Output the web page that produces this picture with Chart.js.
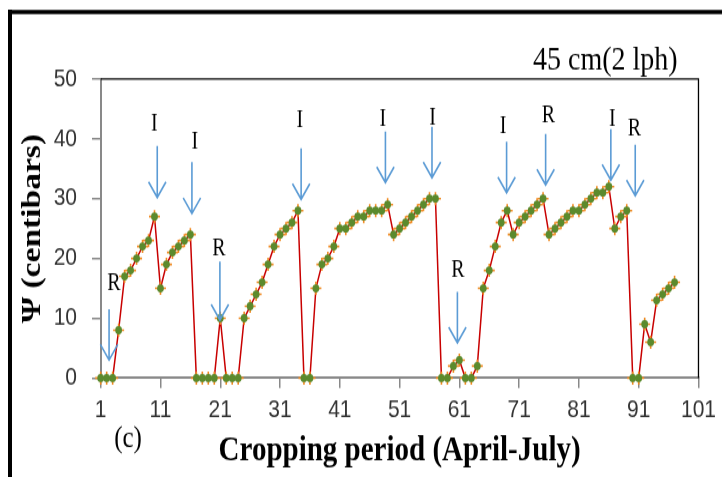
<!DOCTYPE html>
<html>
<head>
<meta charset="utf-8">
<script src="https://cdn.jsdelivr.net/npm/chart.js@4"></script>
<style>
  html { overflow: hidden; }
  body { margin: 0; padding: 0; background: #fff; width: 722px; height: 477px; }
  /* the figure is drawn a little short and stretched to full height */
  #wrap { width: 722px; height: 398px; transform: scaleY(1.1985); transform-origin: 0 0; }
</style>
</head>
<body>
<div id="wrap"><canvas id="c" width="722" height="398"></canvas></div>
<script>
// Day of the cropping period (April-July)
const days = [1,2,3,4,5,6,7,8,9,10,11,12,13,14,15,16,17,18,19,20,
  21,22,23,24,25,26,27,28,29,30,31,32,33,34,35,36,37,38,39,40,
  41,42,43,44,45,46,47,48,49,50,51,52,53,54,55,56,57,58,59,60,
  61,62,63,64,65,66,67,68,69,70,71,72,73,74,75,76,77,78,79,80,
  81,82,83,84,85,86,87,88,89,90,91,92,93,94,95,96,97];

// Soil water tension, centibars
const psi = [0,0,0,8,17,18,20,22,23,27,15,19,21,22,23,24,0,0,0,0,
  10,0,0,0,10,12,14,16,19,22,24,25,26,28,0,0,15,19,20,22,
  25,25,26,27,27,28,28,28,29,24,25,26,27,28,29,30,30,0,0,2,
  3,0,0,2,15,18,22,26,28,24,26,27,28,29,30,24,25,26,27,28,
  28,29,30,31,31,32,25,27,28,0,0,9,6,13,14,15,16];

const xTicks = [1,11,21,31,41,51,61,71,81,91,101];
const yTicks = [0,10,20,30,40,50];

// Irrigation (I) and rain (R) events: arrow shaft position and label placement
const eventText = ['R','I','I','R','I','I','I','R','I','R','I','R'];
const arrowX    = [2.4,10.46,16.26,20.94,34.53,48.63,56.42,60.67,68.9,75.43,86.34,90.42];
const arrowTop  = [11.5,38.8,36.1,19.45,38.4,41.2,42.0,14.4,39.5,40.8,41.6,39.0];
const arrowTip  = [3.0,30.2,27.5,9.7,29.9,32.7,33.5,5.9,31.0,32.3,33.1,30.5];
const labelX    = [3.22,9.96,16.76,20.77,34.3,48.2,56.5,60.77,68.3,75.9,86.6,90.3];
const labelY    = [15.7,42.5,39.5,21.6,43.0,43.3,43.5,18.06,42.1,43.9,43.3,41.6];

const points = days.map((d, i) => ({ x: d, y: psi[i] }));

const decorations = {
  id: 'decorations',
  afterDraw(chart) {
    const { ctx, chartArea: a, scales: { x, y } } = chart;
    ctx.save();

    // plot area border along the top and right
    ctx.strokeStyle = '#000';
    ctx.lineWidth = 1.3;
    ctx.beginPath();
    ctx.moveTo(a.left, a.top);
    ctx.lineTo(a.right, a.top);
    ctx.lineTo(a.right, a.bottom);
    ctx.stroke();

    // outer figure frame, left and top edges
    ctx.lineWidth = 4;
    ctx.beginPath();
    ctx.moveTo(10, chart.height);
    ctx.lineTo(10, 8);
    ctx.stroke();
    ctx.lineWidth = 3.4;
    ctx.beginPath();
    ctx.moveTo(8, 10);
    ctx.lineTo(chart.width, 10);
    ctx.stroke();

    // event arrows
    ctx.strokeStyle = '#5b9bd5';
    ctx.lineWidth = 1.6;
    for (let i = 0; i < arrowX.length; i++) {
      const px = x.getPixelForValue(arrowX[i]);
      const y1 = y.getPixelForValue(arrowTop[i]);
      const y2 = y.getPixelForValue(arrowTip[i]);
      ctx.beginPath();
      ctx.moveTo(px, y1);
      ctx.lineTo(px, y2);
      ctx.moveTo(px - 8.7, y2 - 13);
      ctx.lineTo(px, y2);
      ctx.lineTo(px + 8.7, y2 - 13);
      ctx.stroke();
    }

    // event letters
    ctx.fillStyle = '#000';
    ctx.font = '20px "Liberation Serif", "Times New Roman", serif';
    ctx.textAlign = 'center';
    ctx.textBaseline = 'middle';
    for (let i = 0; i < eventText.length; i++) {
      ctx.fillText(eventText[i], x.getPixelForValue(labelX[i]), y.getPixelForValue(labelY[i]));
    }

    // treatment caption and panel letter
    ctx.font = '28px "Liberation Serif", "Times New Roman", serif';
    ctx.textAlign = 'left';
    ctx.textBaseline = 'alphabetic';
    ctx.fillText('45 cm(2 lph)', 533, 57.5);

    ctx.font = '25px "Liberation Serif", "Times New Roman", serif';
    ctx.textAlign = 'center';
    ctx.textBaseline = 'middle';
    ctx.fillText('(c)', 128, 366.5);

    ctx.restore();
  }
};

const tickFont = { family: 'Liberation Sans', size: 21 };
const axisGrey = '#898989';

new Chart(document.getElementById('c'), {
  type: 'line',
  data: {
    datasets: [
      {
        data: points,
        showLine: false,
        pointStyle: 'circle',
        pointRadius: 3.4,
        pointBackgroundColor: '#5b8a2d',
        pointBorderWidth: 0,
        clip: false,
        order: 0
      },
      {
        data: points,
        borderColor: '#c80000',
        borderWidth: 1.5,
        tension: 0,
        pointStyle: 'cross',
        pointRadius: 5.5,
        pointBorderColor: '#ef8a22',
        pointBorderWidth: 1.6,
        clip: false,
        order: 1
      }
    ]
  },
  options: {
    responsive: false,
    animation: false,
    events: [],
    layout: { padding: { left: 0, top: 65.9, right: 23, bottom: 0 } },
    plugins: { legend: { display: false }, tooltip: { enabled: false } },
    scales: {
      x: {
        type: 'linear',
        min: 1,
        max: 101,
        afterBuildTicks: s => { s.ticks = xTicks.map(v => ({ value: v })); },
        afterFit: s => { s.height = 82.6; },
        grid: { display: true, drawOnChartArea: false, drawTicks: true, tickLength: 8.3, color: axisGrey, lineWidth: 1.5 },
        border: { display: true, color: axisGrey, width: 2 },
        ticks: { font: tickFont, color: '#333', padding: 6, maxRotation: 0, autoSkip: false, callback: v => v },
        title: {
          display: true,
          text: 'Cropping period (April-July)',
          color: '#000',
          font: { family: 'Liberation Serif', size: 29, weight: 'bold' },
          padding: { top: 0, bottom: 4 }
        }
      },
      y: {
        min: 0,
        max: 50,
        afterBuildTicks: s => { s.ticks = yTicks.map(v => ({ value: v })); },
        afterFit: s => { s.width = 100.7; },
        grid: { display: true, drawOnChartArea: false, drawTicks: true, tickLength: 8.7, color: axisGrey, lineWidth: 1.5 },
        border: { display: true, color: axisGrey, width: 2 },
        ticks: { font: tickFont, color: '#333', padding: 15, callback: v => v },
        title: {
          display: true,
          text: 'Ψ (centibars)',
          color: '#000',
          font: { family: 'Liberation Serif', size: 28, weight: 'bold' },
          padding: { top: 16, bottom: 0 }
        }
      }
    }
  },
  plugins: [decorations]
});
</script>
</body>
</html>
